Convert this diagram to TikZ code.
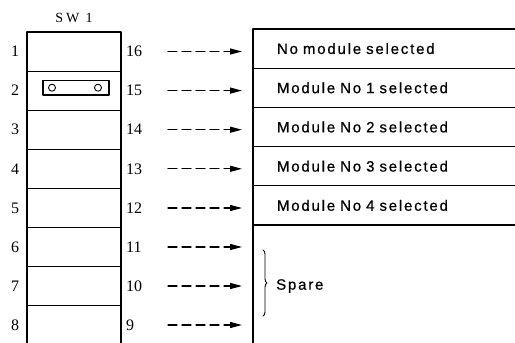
\documentclass[tikz,border=0pt]{standalone}
\usepackage{fontspec}
\setmainfont{Liberation Serif}
\setsansfont{Liberation Sans}[LetterSpace=12, FakeBold=0.6, WordSpace=1.9]
\usetikzlibrary{arrows.meta}
\usetikzlibrary{decorations.pathreplacing}

\tikzset{
	swrow/.style={draw, line width=1.1pt, minimum width=94pt, minimum height=39.1pt, inner sep=0pt, outer sep=0pt, anchor=north west},
	outrow/.style={draw, line width=1.1pt, minimum width=300pt, minimum height=39.2pt, inner ysep=0pt, inner xsep=24pt, outer sep=0pt, text width=252pt, align=left, anchor=north west, font=\sffamily\fontsize{15}{17}\selectfont},
	pin/.style={font=\fontsize{16}{18}\selectfont, inner sep=0pt},
	flow/.style={->, dash pattern=on 9pt off 5pt, line width=1.2pt, shorten >=11pt},
}

\begin{document}
\begin{tikzpicture}[x=1pt, y=-1pt, line cap=round, line join=round, >={Triangle[length=12pt, width=6pt]}]
		\useasboundingbox (0,0) rectangle (515,343);
		\clip (0,0) rectangle (515,343);
		% switch SW1
		\node[font=\fontsize{14}{16}\selectfont\addfontfeature{LetterSpace=20}] (swname) at (74,18) {SW 1};
		\node[swrow] (sw1) at (27,32) {};
		\node[swrow] (sw2) at (27,71.1) {};
		\node[swrow] (sw3) at (27,110.2) {};
		\node[swrow] (sw4) at (27,149.3) {};
		\node[swrow] (sw5) at (27,188.4) {};
		\node[swrow] (sw6) at (27,227.5) {};
		\node[swrow] (sw7) at (27,266.6) {};
		\node[swrow, minimum height=60pt] (sw8) at (27,305.7) {};
		% jumper
		\draw [line width=1.1pt] (43,80.5) rectangle (109,95);
		\draw [line width=0.9pt] (52,87.7) circle (3.5pt);
		\draw [line width=0.9pt] (98,87.7) circle (3.5pt);
		% pin numbers
		\node[pin] (l1) at (15,51.5) {1};
		\node[pin] (l2) at (15,90.6) {2};
		\node[pin] (l3) at (15,129.7) {3};
		\node[pin] (l4) at (15,168.8) {4};
		\node[pin] (l5) at (15,208) {5};
		\node[pin] (l6) at (15,247) {6};
		\node[pin] (l7) at (15,286) {7};
		\node[pin] (l8) at (15,325) {8};
		\node[pin, anchor=west] (r16) at (126,51.5) {16};
		\node[pin, anchor=west] (r15) at (126,90.6) {15};
		\node[pin, anchor=west] (r14) at (126,129.7) {14};
		\node[pin, anchor=west] (r13) at (126,168.8) {13};
		\node[pin, anchor=west] (r12) at (126,208) {12};
		\node[pin, anchor=west] (r11) at (126,247) {11};
		\node[pin, anchor=west] (r10) at (126,286) {10};
		\node[pin, anchor=west] (r9) at (126,325) {9};
		% outputs
		\node[outrow] (o0) at (253,29) {No module selected};
		\node[outrow] (o1) at (253,68.2) {Module No 1 selected};
		\node[outrow] (o2) at (253,107.4) {Module No 2 selected};
		\node[outrow] (o3) at (253,146.6) {Module No 3 selected};
		\node[outrow] (o4) at (253,185.8) {Module No 4 selected};
		\node[outrow, minimum height=140pt] (spare) at (253,225) {};
		\draw [decorate, decoration={brace, amplitude=4pt}, line width=0.9pt] (263,250) -- (263,316);
		\node[font=\sffamily\fontsize{15}{17}\selectfont, anchor=west, inner sep=0pt] (sparetxt) at (276,286) {Spare};
		% arrows
		\coordinate (a16) at (168,51.5);
		\coordinate (a15) at (168,90.6);
		\coordinate (a14) at (168,129.7);
		\coordinate (a13) at (168,168.8);
		\coordinate (a12) at (168,208);
		\coordinate (a11) at (168,247);
		\coordinate (a10) at (168,286);
		\coordinate (a9) at (168,325);
		\draw [flow] (a16) -- (a16 -| o0.west);
		\draw [flow] (a15) -- (a15 -| o1.west);
		\draw [flow] (a14) -- (a14 -| o2.west);
		\draw [flow] (a13) -- (a13 -| o3.west);
		\draw [flow] (a12) -- (a12 -| o4.west);
		\draw [flow] (a11) -- (a11 -| spare.west);
		\draw [flow] (a10) -- (a10 -| spare.west);
		\draw [flow] (a9) -- (a9 -| spare.west);
	\end{tikzpicture}
\end{document}
